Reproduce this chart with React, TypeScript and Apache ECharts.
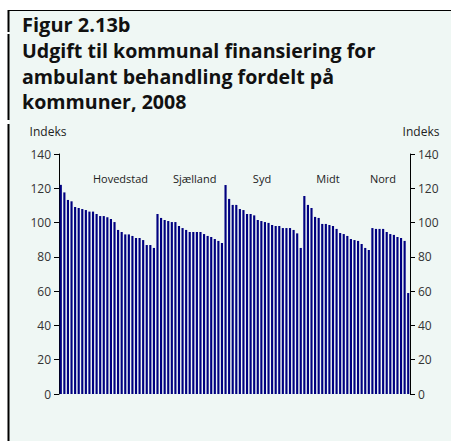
import React, { useEffect, useRef } from "react";
import * as echarts from "echarts";

const regionNames = ["Hovedstad", "Sjælland", "Syd", "Midt", "Nord"];
const hovedstad = [122, 117.6, 113.2, 112.4, 109.1, 108.5, 107.9, 107.3, 106.4, 106.4, 105.0, 103.8, 103.8, 103.1, 102.1, 100.3, 95.7, 94.5, 93.1, 93.1, 92.2, 91.0, 91.0, 89.8, 86.9, 86.9, 85.2];
const sjaelland = [105.0, 102.7, 101.5, 100.9, 100.3, 100.3, 98.0, 96.8, 95.7, 94.5, 94.5, 94.5, 94.5, 93.3, 92.2, 91.6, 90.4, 89.3, 88.1];
const syd = [121.9, 113.8, 110.3, 110.3, 107.9, 107.3, 105.0, 105.0, 104.2, 101.5, 100.9, 100.3, 99.8, 98.6, 98.0, 98.0, 96.8, 96.8, 96.8, 95.7, 93.7, 85.2];
const midt = [115.5, 110.3, 108.5, 103.3, 102.7, 99.2, 99.2, 98.6, 98.0, 96.3, 93.9, 93.3, 92.2, 90.4, 89.8, 89.3, 87.5, 85.2, 84.0];
const nord = [96.8, 96.3, 96.3, 96.3, 94.5, 93.3, 92.8, 91.6, 91.0, 89.3, 58.9];
const yTicks = [0, 20, 40, 60, 80, 100, 120, 140];
const titleLines = ["Figur 2.13b", "Udgift til kommunal finansiering for", "ambulant behandling fordelt på", "kommuner, 2008"];
const unitLabel = "Indeks";

export default function App() {
  const ref = useRef<HTMLDivElement>(null);
  useEffect(() => {
    if (!ref.current) return;
    const chart = echarts.init(ref.current, undefined, { renderer: "svg" });
    const groups = [hovedstad, sjaelland, syd, midt, nord];
    const categories: string[] = [];
    const values: number[] = [];
    groups.forEach((g, gi) => g.forEach((v, i) => { categories.push(regionNames[gi] + " " + (i + 1)); values.push(v); }));
    const font = "'Open Sans', 'Noto Sans', sans-serif";
    const regionPos = [120.5, 194.7, 262, 328, 383];
    const titleTops = [14, 40.5, 66, 91];
    chart.setOption({
      animation: false,
      backgroundColor: "#ffffff",
      grid: { left: 59, right: 41, top: 154, bottom: 47 },
      xAxis: {
        type: "category",
        data: categories,
        axisLine: { show: false },
        axisTick: { show: false },
        axisLabel: { show: false },
      },
      yAxis: [0, 1].map((k) => ({
        type: "value",
        min: yTicks[0],
        max: yTicks[yTicks.length - 1],
        interval: 20,
        position: k === 0 ? "left" : "right",
        axisLine: { show: true, lineStyle: { color: "#000", width: 1 } },
        axisTick: { show: true, length: 5, lineStyle: { color: "#000" } },
        axisLabel: { color: "#333", fontSize: 12, fontFamily: font, margin: 8 },
        splitLine: { show: false },
      })),
      series: [
        {
          type: "bar",
          data: values,
          barCategoryGap: "40%",
          itemStyle: { color: "#000080" },
        },
      ],
      graphic: [
        { type: "rect", z: -10, shape: { x: 9, y: 11, width: 442, height: 430 }, style: { fill: "#eff7f4" } },
        { type: "line", shape: { x1: 8, y1: 10.5, x2: 451, y2: 10.5 }, style: { stroke: "#000", lineWidth: 1 } },
        { type: "line", shape: { x1: 8.5, y1: 10, x2: 8.5, y2: 32 }, style: { stroke: "#000", lineWidth: 2 } },
        { type: "line", shape: { x1: 8.5, y1: 34, x2: 8.5, y2: 120 }, style: { stroke: "#000", lineWidth: 2 } },
        { type: "line", shape: { x1: 8.5, y1: 124, x2: 8.5, y2: 441 }, style: { stroke: "#000", lineWidth: 2 } },
        ...titleLines.map((t, i) => ({
          type: "text",
          left: 22,
          top: titleTops[i],
          style: { text: t, fill: "#111", font: `bold ${i === 0 ? 20 : 19.6}px ${font}` },
        })),
        { type: "text", x: 48, y: 131, style: { text: unitLabel, fill: "#222", font: `12px ${font}`, align: "center", verticalAlign: "middle" } },
        { type: "text", x: 421, y: 131, style: { text: unitLabel, fill: "#222", font: `12px ${font}`, align: "center", verticalAlign: "middle" } },
        ...regionNames.map((r, i) => ({
          type: "text",
          x: regionPos[i],
          y: 178,
          style: { text: r, fill: "#222", font: `11px ${font}`, align: "center", verticalAlign: "middle" },
        })),
      ],
    });
    return () => chart.dispose();
  }, []);
  return <div ref={ref} style={{ position: "fixed", left: 0, top: 0, width: 451, height: 441 }} />;
}
